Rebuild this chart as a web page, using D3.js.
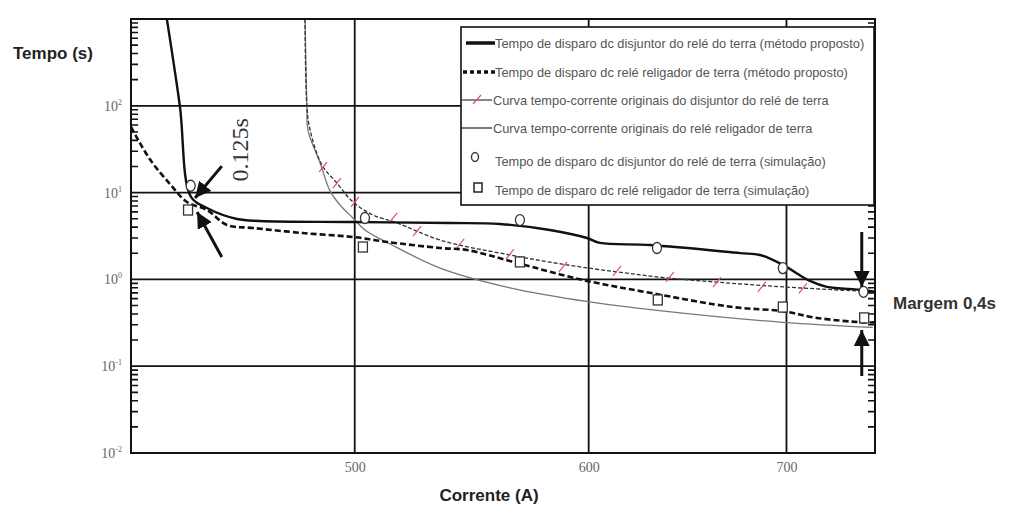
<!DOCTYPE html>
<html>
<head>
<meta charset="utf-8">
<script src="https://cdn.jsdelivr.net/npm/d3@7"></script>
<style>
  body { margin: 0; background: #fff; }
  svg { display: block; }
</style>
</head>
<body>
<div id="chart"></div>
<script>
// data: [corrente (A), tempo (s)]
var breakerProposed = [[431.9, 1000], [436.3, 99.5], [440.1, 8.9], [445.6, 6.65], [456.2, 4.96], [464.4, 4.71],
    [499.3, 4.58], [538.5, 4.47], [559.9, 4.35], [582.1, 3.71], [599.2, 3.0], [605.3, 2.63], [629.4, 2.49],
    [675.1, 2.01], [685.7, 1.91], [698, 1.47], [712.9, 0.96], [722.4, 0.82], [741.2, 0.76], [749.9, 0.72]];
var recloserProposed = [[420, 57], [426.3, 24], [433, 12.5], [438.7, 7.8], [445.6, 6.3], [452.6, 4.24], [461.9, 3.91],
    [480.2, 3.42], [499.3, 3.08], [512.8, 2.70], [534.4, 2.30], [545.7, 2.18], [567.3, 1.55], [597.3, 0.985],
    [629.4, 0.70], [671.4, 0.48], [698, 0.43], [716.8, 0.36], [742.9, 0.32], [749.9, 0.32]];
var breakerOriginal = [[481, 1000], [481.7, 99.5], [482.9, 52.6], [487.4, 20.8], [493.1, 12.9], [499.3, 7.8],
    [507.2, 5.52], [516.8, 4.47], [534.4, 2.84], [564.3, 1.91], [589.9, 1.47], [613.4, 1.22], [636, 1.05],
    [663.1, 0.93], [698, 0.82], [748.7, 0.72]];
var breakerOriginalMarks = [[487.8, 19.7], [493.1, 12.9], [500.1, 7.8], [515.2, 5.1], [524.9, 3.6], [542.8, 2.56],
    [564.3, 1.96], [588.1, 1.39], [613.4, 1.25], [639.2, 1.07], [663.1, 0.93], [686.7, 0.82], [709, 0.79]];
var recloserOriginal = [[481, 1000], [481.7, 99.5], [482.1, 52.6], [486.7, 21.9], [490.5, 10.4], [494.3, 7.2],
    [499.3, 5.1], [504, 3.71], [514, 2.56], [534.4, 1.35], [564.3, 0.80], [600.6, 0.55], [632.8, 0.44],
    [698, 0.32], [748.7, 0.28]];
var breakerSim = [[440, 12], [504, 5.1], [568.7, 4.83], [632.8, 2.3], [698, 1.35], [743.3, 0.72]];
var recloserSim = [[439.1, 6.3], [503.2, 2.36], [568.7, 1.59], [633.2, 0.58], [698, 0.48], [743.7, 0.36]];

var currentTicks = [500, 600, 700];
var timeTicks = [0.01, 0.1, 1, 10, 100];
var timeTickExp = ["-2", "-1", "0", "1", "2"];
var minorSteps = [2, 3, 4, 5, 6, 7, 8, 9];

var legendNames = [
    "Tempo de disparo dc disjuntor do relé do terra (método proposto)",
    "Tempo de disparo dc relé religador de terra (método proposto)",
    "Curva tempo-corrente originais do disjuntor do relé de terra",
    "Curva tempo-corrente originais do relé religador de terra",
    "Tempo de disparo dc disjuntor do relé de terra (simulação)",
    "Tempo de disparo dc relé religador de terra (simulação)"];

// annotation arrows, [from, to] in data units
var arrows = [
    [[450.8, 20.2], [441.5, 8.67]],
    [[450.8, 1.81], [442.2, 5.98]],
    [[742.3, 3.52], [742.3, 0.82]],
    [[742.3, 0.077], [742.3, 0.261]]];

var margin = {top: 19, right: 157, bottom: 53, left: 131},
    width = 1032 - margin.left - margin.right,
    height = 506 - margin.top - margin.bottom;

var root = d3.select("#chart").append("svg")
    .attr("width", 1032)
    .attr("height", 506);

var defs = root.append("defs");
defs.append("clipPath").attr("id", "plotclip")
    .append("rect").attr("width", width).attr("height", height);
defs.append("marker")
    .attr("id", "head")
    .attr("viewBox", "0 0 10 10")
    .attr("refX", 10).attr("refY", 5)
    .attr("markerUnits", "userSpaceOnUse")
    .attr("markerWidth", 16).attr("markerHeight", 16)
    .attr("orient", "auto")
    .append("path").attr("d", "M0,0 L10,5 L0,10 z").attr("fill", "#111");

var svg = root.append("g")
    .attr("transform", "translate(" + margin.left + "," + margin.top + ")");

var x = d3.scaleLog().domain([420, 750]).range([0, width]);
var y = d3.scaleLog().domain([0.01, 1000]).range([height, 0]);

// minor ticks on both sides, pointing inwards
var minor = [];
[0.01, 0.1, 1, 10, 100].forEach(function(dec) {
    minorSteps.forEach(function(m) { minor.push(dec * m); });
});
var tickPath = "";
minor.forEach(function(v) {
    var ty = y(v);
    tickPath += "M0," + ty + "h7M" + (width - 7) + "," + ty + "h7";
});
svg.append("path")
    .attr("d", tickPath)
    .attr("fill", "none")
    .attr("stroke", "#111")
    .attr("stroke-width", 1.6);

// grid
svg.selectAll(".hgrid")
    .data(timeTicks.slice(1))
    .enter().append("line")
    .attr("class", "hgrid")
    .attr("x1", 0).attr("x2", width)
    .attr("y1", d => y(d)).attr("y2", d => y(d))
    .attr("stroke", "#111").attr("stroke-width", 1.8);
svg.selectAll(".vgrid")
    .data(currentTicks)
    .enter().append("line")
    .attr("class", "vgrid")
    .attr("x1", d => x(d)).attr("x2", d => x(d))
    .attr("y1", 0).attr("y2", height)
    .attr("stroke", "#111").attr("stroke-width", 1.8);

// x tick labels
svg.append("g")
    .attr("transform", "translate(0," + height + ")")
    .call(d3.axisBottom(x).tickValues(currentTicks).tickSize(0).tickPadding(9).tickFormat(d3.format("d")))
    .call(g => g.select(".domain").remove())
    .selectAll("text")
    .attr("font-family", "Liberation Serif, serif")
    .attr("font-size", 14)
    .attr("fill", "#666");

// y tick labels (10 with exponent)
var ylab = svg.selectAll(".ylab")
    .data(timeTicks)
    .enter().append("text")
    .attr("class", "ylab")
    .attr("x", -9)
    .attr("y", d => y(d) + 5)
    .attr("text-anchor", "end")
    .attr("font-family", "Liberation Serif, serif")
    .attr("font-size", 14)
    .attr("fill", "#666");
ylab.append("tspan").text("10");
ylab.append("tspan")
    .attr("dy", -6)
    .attr("font-size", 8)
    .text((d, i) => timeTickExp[i]);

// curves
var line = d3.line()
    .x(d => x(d[0]))
    .y(d => y(d[1]))
    .curve(d3.curveCatmullRom.alpha(0.5));

var plot = svg.append("g").attr("clip-path", "url(#plotclip)");

plot.append("path")
    .datum(recloserOriginal)
    .attr("d", line)
    .attr("fill", "none")
    .attr("stroke", "#777")
    .attr("stroke-width", 1.3);

plot.append("path")
    .datum(breakerOriginal)
    .attr("d", line)
    .attr("fill", "none")
    .attr("stroke", "#333")
    .attr("stroke-width", 1.3)
    .attr("stroke-dasharray", "4,2");

plot.selectAll(".redmark")
    .data(breakerOriginalMarks)
    .enter().append("line")
    .attr("class", "redmark")
    .attr("x1", d => x(d[0]) - 4).attr("y1", d => y(d[1]) + 5)
    .attr("x2", d => x(d[0]) + 4).attr("y2", d => y(d[1]) - 5)
    .attr("stroke", "#e0506e")
    .attr("stroke-width", 1.2);

plot.append("path")
    .datum(recloserProposed)
    .attr("d", line)
    .attr("fill", "none")
    .attr("stroke", "#111")
    .attr("stroke-width", 2.6)
    .attr("stroke-dasharray", "6,3");

plot.append("path")
    .datum(breakerProposed)
    .attr("d", line)
    .attr("fill", "none")
    .attr("stroke", "#111")
    .attr("stroke-width", 2.4);

// simulation points
plot.selectAll(".circ")
    .data(breakerSim)
    .enter().append("ellipse")
    .attr("class", "circ")
    .attr("cx", d => x(d[0]))
    .attr("cy", d => y(d[1]))
    .attr("rx", 4.5).attr("ry", 5.5)
    .attr("fill", "#fff")
    .attr("stroke", "#333")
    .attr("stroke-width", 1.3);

plot.selectAll(".sq")
    .data(recloserSim)
    .enter().append("rect")
    .attr("class", "sq")
    .attr("x", d => x(d[0]) - 4.5)
    .attr("y", d => y(d[1]) - 5)
    .attr("width", 9).attr("height", 10)
    .attr("fill", "#fff")
    .attr("stroke", "#333")
    .attr("stroke-width", 1.3);

// frame
svg.append("rect")
    .attr("width", width).attr("height", height)
    .attr("fill", "none")
    .attr("stroke", "#111")
    .attr("stroke-width", 2);

// arrows
svg.selectAll(".arrow")
    .data(arrows)
    .enter().append("line")
    .attr("class", "arrow")
    .attr("x1", d => x(d[0][0])).attr("y1", d => y(d[0][1]))
    .attr("x2", d => x(d[1][0])).attr("y2", d => y(d[1][1]))
    .attr("stroke", "#111")
    .attr("stroke-width", 3)
    .attr("marker-end", "url(#head)");

svg.append("text")
    .attr("transform", "translate(" + x(460.1) + "," + y(31) + ") rotate(-90)")
    .attr("text-anchor", "middle")
    .attr("font-family", "Liberation Serif, serif")
    .attr("font-size", 24)
    .attr("fill", "#333")
    .text("0.125s");

// legend
var legend = root.append("g");
legend.append("rect")
    .attr("x", 461).attr("y", 27)
    .attr("width", 413).attr("height", 178)
    .attr("fill", "#fff")
    .attr("stroke", "#111")
    .attr("stroke-width", 1.6);

var rowY = [43, 72, 100, 128, 161, 190];
legend.append("line").attr("x1", 466).attr("x2", 495).attr("y1", rowY[0]).attr("y2", rowY[0])
    .attr("stroke", "#111").attr("stroke-width", 3.5);
legend.append("line").attr("x1", 463).attr("x2", 495).attr("y1", rowY[1]).attr("y2", rowY[1])
    .attr("stroke", "#111").attr("stroke-width", 3.5).attr("stroke-dasharray", "4,3");
legend.append("line").attr("x1", 461).attr("x2", 492).attr("y1", rowY[2]).attr("y2", rowY[2])
    .attr("stroke", "#333").attr("stroke-width", 1.2);
legend.append("line").attr("x1", 473).attr("x2", 481).attr("y1", rowY[2] + 4).attr("y2", rowY[2] - 5)
    .attr("stroke", "#e0506e").attr("stroke-width", 1.2);
legend.append("line").attr("x1", 461).attr("x2", 492).attr("y1", rowY[3]).attr("y2", rowY[3])
    .attr("stroke", "#222").attr("stroke-width", 1.2);
legend.append("ellipse").attr("cx", 475).attr("cy", 157).attr("rx", 3.5).attr("ry", 4.5)
    .attr("fill", "#fff").attr("stroke", "#333").attr("stroke-width", 1.4);
legend.append("rect").attr("x", 474).attr("y", 183).attr("width", 8).attr("height", 9)
    .attr("fill", "#fff").attr("stroke", "#222").attr("stroke-width", 1.5);

legend.selectAll(".legtext")
    .data(legendNames)
    .enter().append("text")
    .attr("class", "legtext")
    .attr("x", (d, i) => (i == 2 || i == 3) ? 493 : 495)
    .attr("y", (d, i) => rowY[i])
    .attr("dominant-baseline", "central")
    .attr("font-family", "Liberation Sans, Arial, sans-serif")
    .attr("font-size", 12.8)
    .attr("fill", "#555")
    .text(d => d);

// titles
root.append("text")
    .attr("x", 13).attr("y", 59)
    .attr("font-family", "Liberation Sans, Arial, sans-serif")
    .attr("font-weight", "bold")
    .attr("font-size", 17)
    .attr("fill", "#222")
    .text("Tempo (s)");

root.append("text")
    .attr("x", 489).attr("y", 501)
    .attr("text-anchor", "middle")
    .attr("font-family", "Liberation Sans, Arial, sans-serif")
    .attr("font-weight", "bold")
    .attr("font-size", 17)
    .attr("fill", "#222")
    .text("Corrente (A)");

root.append("text")
    .attr("x", 893).attr("y", 309)
    .attr("font-family", "Liberation Sans, Arial, sans-serif")
    .attr("font-weight", "bold")
    .attr("font-size", 17)
    .attr("fill", "#333")
    .text("Margem 0,4s");
</script>
</body>
</html>
